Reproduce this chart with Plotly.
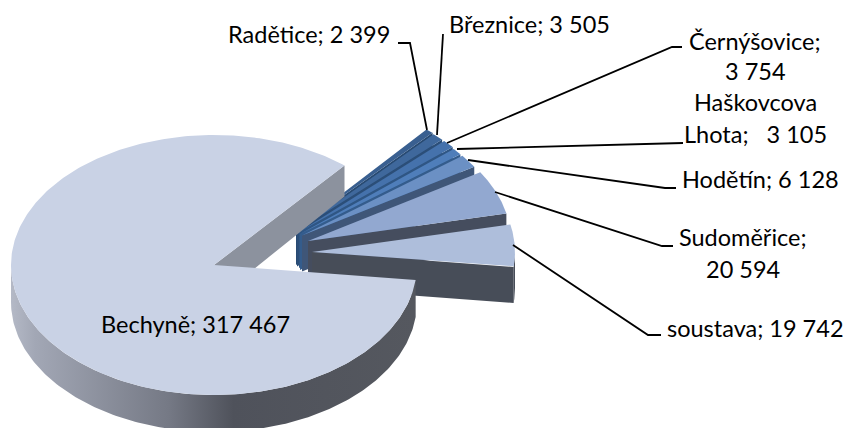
import numpy as np
import plotly.graph_objects as go

# ---- data
categories = ["Bechyně", "soustava", "Sudoměřice", "Hodětín", "Haškovcova Lhota",
              "Černýšovice", "Březnice", "Radětice"]
values = [317467, 19742, 20594, 6128, 3105, 3754, 3505, 2399]
label_lines = [
    ["Bechyně; 317 467"], ["soustava; 19 742"], ["Sudoměřice;", "20 594"],
    ["Hodětín; 6 128"], ["Haškovcova", "Lhota;\u00a0\u00a0\u00a03 105"],
    ["Černýšovice;", "3 754"], ["Březnice; 3 505"], ["Radětice; 2 399"],
]

# ---- geometry and style (pixel-based axes)
W, H = 851, 428
CX, CY, RX, RY = 214, 265, 203, 130
START_DEG = -6.6
DEPTH = 36
apex_offsets = [(0, 0), (98, -13), (94, -24), (88, -29.5), (86, -31), (85, -33), (83, -34.5), (82, -36)]
top_colors = ["#C9D2E5", "#AEBEDB", "#92A8D0", "#6B90C4", "#4F7EBA", "#4572AC", "#3F689C", "#395F90"]
wall_colors = ["#8C929E", "#474D58", "#454D5E", "#3F5678", "#345C8C", "#2F5684", "#2B4E78", "#284A72"]
label_pos = [
    [(195, 324)], [(755, 328)], [(743, 237), (743, 269)], [(760, 179)],
    [(755, 102), (755, 134)], [(755, 41), (755, 71)], [(529, 24)], [(309, 34)],
]
leaders = [
    None,
    [(661, 335), (648, 335), (513, 245)],
    [(673, 246), (662, 246), (495, 192)],
    [(676, 188), (665, 188), (468, 160)],
    [(683, 143), (457, 149)],
    [(682, 47), (672, 47), (447, 143)],
    [(443, 34), (437, 135)],
    [(398, 43), (410, 43), (427, 130)],
]
FONT = dict(family="Lato, Carlito, Calibri, sans-serif", size=23.5, color="#000000")

# ---- angles from values (anticlockwise from the slice "soustava"; Bechyně closes the circle)
v = np.array(values, float)
sweep = v / v.sum() * 360.0
order = [1, 2, 3, 4, 5, 6, 7, 0]
lo, hi = {}, {}
a = START_DEG
for i in order:
    lo[i], hi[i] = a, a + sweep[i]
    a += sweep[i]


def arc(cx, cy, a0, a1, n=120):
    t = np.radians(np.linspace(a0, a1, n))
    return cx + RX * np.cos(t), cy - RY * np.sin(t)


fig = go.Figure()


def poly(xs, ys, color=None, grad=None):
    kw = dict(fillgradient=grad) if grad else dict(fillcolor=color)
    fig.add_trace(go.Scatter(x=list(xs), y=list(ys), mode="lines", fill="toself",
                             line=dict(width=0), hoverinfo="skip", showlegend=False, **kw))


# Exploded slices, back to front
for i in [7, 6, 5, 4, 3, 2, 1]:
    ax, ay = CX + apex_offsets[i][0], CY + apex_offsets[i][1]
    tx, ty = arc(ax, ay, lo[i], hi[i])
    # lower radial wall
    poly([ax, tx[0], tx[0], ax], [ay, ty[0], ty[0] + DEPTH, ay + DEPTH], wall_colors[i])
    # rim below the horizon
    if lo[i] < 0:
        rx, ry = arc(ax, ay, lo[i], 0, 20)
        poly(np.r_[rx, rx[::-1]], np.r_[ry, ry[::-1] + DEPTH], wall_colors[i])
    # top face
    poly(np.r_[ax, tx], np.r_[ay, ty], top_colors[i])

# Main slice
i = 0
tx, ty = arc(CX, CY, lo[i], hi[i], 360)
# far radial wall (starting edge of the slice)
poly([CX, tx[0], tx[0], CX], [CY, ty[0], ty[0] + 31, CY + DEPTH], wall_colors[0])
# outer rim
rx, ry = arc(CX, CY, 180, 360 + START_DEG, 200)
poly(np.r_[rx, rx[::-1]], np.r_[ry, ry[::-1] + DEPTH + 1], grad=dict(
    type="horizontal",
    colorscale=[[0, "#B4B9C6"], [0.06, "#A2A7B5"], [0.39, "#757985"], [0.55, "#4F525B"], [1, "#55585F"]],
))
# top face
poly(np.r_[CX, tx], np.r_[CY, ty], top_colors[0])

# Leader lines
for pts in leaders:
    if pts:
        fig.add_trace(go.Scatter(x=[p[0] for p in pts], y=[p[1] for p in pts], mode="lines",
                                 line=dict(color="#000000", width=1.8), hoverinfo="skip", showlegend=False))

# Labels
anns = []
for lines, poss in zip(label_lines, label_pos):
    for t, (x, y) in zip(lines, poss):
        anns.append(dict(x=x, y=y, text=t, showarrow=False, xref="x", yref="y",
                         xanchor="center", yanchor="middle", font=FONT))

fig.update_layout(
    width=W, height=H, margin=dict(l=0, r=0, t=0, b=0),
    paper_bgcolor="white", plot_bgcolor="white", annotations=anns,
    xaxis=dict(range=[0, W], visible=False, fixedrange=True),
    yaxis=dict(range=[H, 0], visible=False, fixedrange=True),
)
fig.write_html("out.html", config=dict(displayModeBar=False),
               post_script="document.body.style.margin='0';document.body.style.overflow='hidden';")
